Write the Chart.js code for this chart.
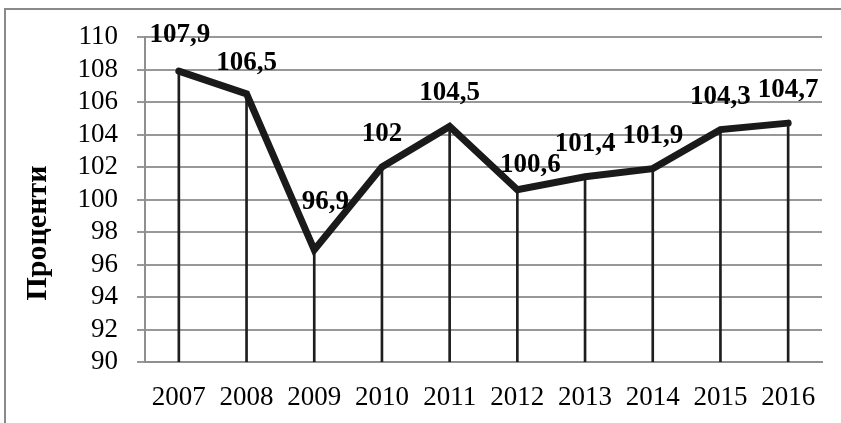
<!DOCTYPE html>
<html>
<head>
<meta charset="utf-8">
<script src="https://cdn.jsdelivr.net/npm/chart.js@4.4.1/dist/chart.umd.min.js"></script>
<style>
    html, body { margin: 0; padding: 0; background: #fff; overflow: hidden; }
    #wrap { position: relative; width: 841px; height: 423px; }
    #frame {
        position: absolute; left: 4px; top: 8px; width: 860px; height: 440px;
        border-left: 2px solid #8a8a8a; border-top: 2px solid #8a8a8a;
    }
    #chart { position: absolute; left: 0; top: 0; }
</style>
</head>
<body>
<div id="wrap">
    <div id="frame"></div>
    <canvas id="chart" width="841" height="423"></canvas>
</div>
<script>
const years = ["2007", "2008", "2009", "2010", "2011", "2012", "2013", "2014", "2015", "2016"];
const percents = [107.9, 106.5, 96.9, 102, 104.5, 100.6, 101.4, 101.9, 104.3, 104.7];
const yTitle = "Проценти";

const serif = "'Liberation Serif', 'Times New Roman', serif";

// hand nudges for the labels that were moved off the default spot
const labelNudge = { 0: [1, -36], 1: [0, -31], 2: [11, -48], 5: [13, -25] };

const valueLabels = {
    id: "valueLabels",
    afterDatasetsDraw(chart) {
        const meta = chart.getDatasetMeta(1);
        const ctx = chart.ctx;
        ctx.save();
        ctx.font = "bold 27px " + serif;
        ctx.fillStyle = "#000";
        ctx.textAlign = "center";
        ctx.textBaseline = "middle";
        meta.data.forEach((pt, i) => {
            const n = labelNudge[i] || [0, -33];
            const txt = String(percents[i]).replace(".", ",");
            ctx.fillText(txt, pt.x + n[0], pt.y + n[1]);
        });
        ctx.restore();
    }
};

const sideTitle = {
    id: "sideTitle",
    afterDraw(chart) {
        const ctx = chart.ctx;
        ctx.save();
        ctx.translate(38, 233);
        ctx.rotate(-Math.PI / 2);
        ctx.font = "bold 30px " + serif;
        ctx.fillStyle = "#000";
        ctx.textAlign = "center";
        ctx.textBaseline = "middle";
        ctx.fillText(yTitle, 0, 0);
        ctx.restore();
    }
};

new Chart(document.getElementById("chart"), {
    type: "bar",
    data: {
        labels: years,
        datasets: [
            {
                type: "bar",
                data: percents,
                backgroundColor: "#1e1e1e",
                barThickness: 2,
                order: 2
            },
            {
                type: "line",
                data: percents,
                borderColor: "#1a1a1a",
                borderWidth: 7,
                borderCapStyle: "round",
                borderJoinStyle: "miter",
                pointRadius: 0,
                tension: 0,
                order: 1
            }
        ]
    },
    options: {
        responsive: false,
        animation: false,
        events: [],
        layout: {
            autoPadding: false,
            padding: { top: 37, right: 19, left: 0, bottom: 0 }
        },
        plugins: {
            legend: { display: false },
            tooltip: { enabled: false }
        },
        scales: {
            x: {
                offset: true,
                afterFit: (s) => { s.height = 61; },
                grid: { display: false, drawTicks: false },
                border: { display: true, color: "#8f8f8f", width: 2 },
                ticks: {
                    color: "#000",
                    padding: 20,
                    maxRotation: 0,
                    autoSkip: false,
                    font: { family: serif, size: 27 }
                }
            },
            y: {
                min: 90,
                max: 110,
                afterFit: (s) => { s.width = 145; },
                grid: { color: "#989898", lineWidth: 2, tickLength: 8 },
                border: { display: true, color: "#8f8f8f", width: 2 },
                ticks: {
                    stepSize: 2,
                    autoSkip: false,
                    color: "#000",
                    padding: 19,
                    font: { family: serif, size: 27 }
                }
            }
        }
    },
    plugins: [valueLabels, sideTitle]
});
</script>
</body>
</html>
